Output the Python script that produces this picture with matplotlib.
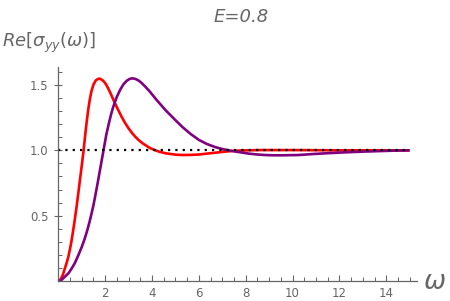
import matplotlib
matplotlib.use("Agg")
import matplotlib.pyplot as plt
from matplotlib.ticker import MultipleLocator, FixedLocator

plt.rcParams['mathtext.fontset'] = 'dejavusans'
plt.rcParams['mathtext.default'] = 'it'

# Values
red_w = [0, 0.1, 0.2, 0.26, 0.35, 0.43, 0.5, 0.57, 0.68, 0.78, 0.87, 0.95, 1.02,
         1.08, 1.15, 1.21, 1.28, 1.35, 1.42, 1.5, 1.6, 1.7, 1.78, 1.9, 2.0, 2.1,
         2.2, 2.3, 2.4, 2.54, 2.7, 2.85, 3.0, 3.15, 3.28, 3.45, 3.63, 3.89, 4.1,
         4.3, 4.59, 5.0, 5.3, 5.65, 6.0, 6.35, 6.71, 7.05, 7.42, 7.8, 8.12, 8.6,
         9, 10, 11, 12, 13, 14, 15]
red_s = [0, 0.012, 0.05, 0.084, 0.135, 0.186, 0.245, 0.313, 0.44, 0.567, 0.695, 0.81, 0.91,
         1.0, 1.12, 1.215, 1.315, 1.395, 1.455, 1.503, 1.535, 1.547, 1.548, 1.535, 1.515, 1.485,
         1.448, 1.408, 1.368, 1.315, 1.258, 1.21, 1.168, 1.132, 1.105, 1.075, 1.05, 1.02, 1.003,
         0.99, 0.977, 0.967, 0.964, 0.965, 0.968, 0.975, 0.982, 0.989, 0.995, 0.999, 1.0, 1.002,
         1.002, 1.002, 1.001, 1.0, 1.0, 1.0, 1.0]

purple_w = [0, 0.14, 0.28, 0.43, 0.55, 0.7, 0.85, 1.0, 1.12, 1.24, 1.33, 1.42, 1.5,
            1.57, 1.68, 1.8, 1.92, 2.05, 2.17, 2.26, 2.35, 2.5, 2.64, 2.78, 2.92, 3.05,
            3.16, 3.3, 3.42, 3.53, 3.7, 3.89, 4.2, 4.59, 4.95, 5.3, 5.65, 6.0, 6.35,
            6.71, 7.05, 7.42, 7.8, 8.12, 8.5, 8.83, 9.2, 9.54, 9.9, 10.24, 10.9, 11.6,
            12.3, 13.0, 13.7, 14.4, 15]
purple_s = [0, 0.008, 0.033, 0.058, 0.09, 0.135, 0.195, 0.26, 0.32, 0.39, 0.45, 0.517, 0.58,
            0.644, 0.75, 0.87, 0.99, 1.12, 1.215, 1.28, 1.335, 1.41, 1.463, 1.505, 1.532, 1.547,
            1.551, 1.546, 1.535, 1.52, 1.49, 1.453, 1.385, 1.305, 1.24, 1.178, 1.125, 1.08, 1.048,
            1.024, 1.008, 0.995, 0.984, 0.975, 0.968, 0.964, 0.962, 0.962, 0.963, 0.964, 0.972, 0.979,
            0.985, 0.99, 0.994, 0.998, 1.0]

ref_w = [0, 15]
ref_s = [1.0, 1.0]

x_ticks = [2, 4, 6, 8, 10, 12, 14]
y_ticks = [0.5, 1.0, 1.5]

gray = '#666666'

fig = plt.figure(figsize=(4.5, 3.01), dpi=100)
ax = fig.add_axes([58.3 / 450, 20 / 301, (416.7 - 58.3) / 450, (281 - 66.7) / 301])

ax.plot(red_w, red_s, color='#ff0000', lw=1.9, solid_capstyle='butt',
        solid_joinstyle='round', clip_on=False)
ax.plot(purple_w, purple_s, color='#800080', lw=1.9, solid_capstyle='butt',
        solid_joinstyle='round', clip_on=False)
ax.plot(ref_w, ref_s, color='black', lw=1.6, linestyle=(0, (1, 2.3)))

ax.set_xlim(0, 15.3)
ax.set_ylim(0, 1.64)

for s in ['top', 'right']:
    ax.spines[s].set_visible(False)
for s in ['left', 'bottom']:
    ax.spines[s].set_color(gray)
    ax.spines[s].set_linewidth(0.9)

ax.xaxis.set_major_locator(FixedLocator(x_ticks))
ax.xaxis.set_minor_locator(MultipleLocator(0.5))
ax.yaxis.set_major_locator(FixedLocator(y_ticks))
ax.yaxis.set_minor_locator(MultipleLocator(0.1))
ax.set_xticklabels([str(t) for t in x_ticks])
ax.set_yticklabels(['%.1f' % t for t in y_ticks])

ax.tick_params(which='major', direction='in', length=4.5, width=0.8, color=gray,
               labelcolor=gray, labelsize=8.5, pad=4)
ax.tick_params(which='minor', direction='in', length=2.8, width=0.7, color=gray)
ax.tick_params(axis='y', which='major', direction='inout', length=6)

fig.text(241 / 450, (301 - 22) / 301, 'E=0.8', ha='center', va='baseline',
         fontsize=13, style='italic', color=gray)
fig.text(2 / 450, (301 - 47) / 301, r'$Re[\sigma_{yy}(\omega)]$', ha='left',
         va='baseline', fontsize=13, color=gray)
fig.text(434 / 450, (301 - 289) / 301, r'$\omega$', ha='center', va='baseline',
         fontsize=19, color=gray)

fig.savefig('out.png', dpi=100)
